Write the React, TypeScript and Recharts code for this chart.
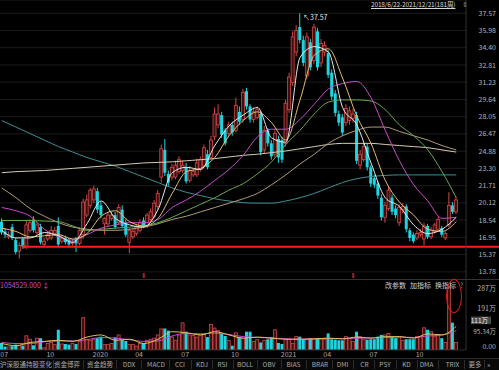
import React from "react";
import {
  ComposedChart,
  Bar,
  Line,
  XAxis,
  YAxis,
  CartesianGrid,
  ReferenceLine,
  ReferenceDot,
} from "recharts";

const FONT = '"Noto Sans CJK SC", "Noto Sans", sans-serif';
const UP = "#d04848";
const UP_FILL = "#3a1010";
const DOWN = "#1fd4de";

// weekly candles, 2019-07 .. 2021-12
const opens = [
  18.4, 17.5, 17.0, 17.9, 16.7, 15.7, 16.8, 16.1, 17.6, 18.6,
  17.4, 17.9, 16.3, 16.8, 16.9, 17.3, 18.0, 16.6, 16.9, 16.7,
  16.4, 16.8, 16.4, 17.2, 19.0, 19.9, 20.4, 21.2, 19.9, 18.2,
  18.2, 18.7, 19.0, 18.3, 19.5, 18.3, 16.5, 17.0, 17.3, 17.6,
  18.5, 18.0, 18.6, 18.9, 19.8, 22.5, 25.0, 22.8, 22.5, 22.5,
  23.0, 23.1, 23.4, 22.2, 22.7, 22.7, 23.2, 23.5, 24.6, 24.3,
  26.2, 27.3, 28.2, 26.8, 26.5, 27.3, 26.8, 28.5, 27.8, 30.4,
  29.0, 27.8, 28.0, 28.3, 25.0, 26.8, 25.6, 24.6, 26.0, 25.9,
  25.6, 28.7, 31.2, 34.0, 36.3, 35.1, 31.8, 34.9, 33.2, 35.9,
  33.0, 34.0, 33.9, 32.1, 30.2, 28.3, 28.0, 27.5, 27.7, 27.9,
  28.2, 23.6, 24.1, 25.3, 23.4, 22.4, 21.9, 20.6, 18.8, 19.6,
  20.6, 19.6, 18.3, 19.5, 19.8, 17.6, 17.2, 16.9, 17.2, 16.8,
  18.0, 17.0, 17.5, 17.7, 17.8, 16.9, 18.1, 19.9, 19.3,
];
const closes = [
  17.4, 17.2, 17.2, 16.9, 15.6, 16.2, 16.1, 18.1, 18.3, 17.6,
  18.1, 16.5, 16.6, 17.2, 17.6, 17.6, 16.3, 16.9, 16.5, 16.3,
  16.5, 16.4, 17.6, 20.2, 20.4, 21.3, 21.4, 19.5, 19.0, 18.7,
  19.0, 19.0, 17.9, 19.7, 18.0, 17.2, 17.6, 17.5, 17.9, 18.3,
  18.0, 19.0, 19.3, 20.1, 21.0, 25.1, 22.9, 22.0, 23.4, 23.6,
  24.1, 23.6, 22.1, 23.1, 23.0, 23.8, 24.1, 25.2, 23.4, 25.9,
  28.3, 28.3, 26.4, 25.6, 27.3, 26.6, 29.1, 27.6, 30.3, 29.0,
  27.8, 28.5, 28.7, 24.8, 26.8, 25.6, 24.4, 26.5, 24.3, 24.1,
  29.3, 31.7, 35.4, 36.0, 35.1, 33.0, 35.4, 32.6, 36.3, 32.6,
  34.8, 34.6, 31.9, 29.9, 28.4, 27.5, 26.6, 28.8, 28.6, 28.3,
  24.0, 24.6, 25.3, 23.4, 21.9, 21.8, 20.8, 18.8, 19.9, 21.3,
  19.3, 19.0, 19.7, 19.8, 17.7, 16.9, 16.6, 17.3, 17.4, 18.0,
  17.0, 17.6, 18.1, 18.6, 17.2, 17.3, 19.9, 19.3, 20.4,
];
const highs = [
  18.7, 17.8, 17.5, 18.2, 16.9, 16.5, 17.0, 18.5, 18.6, 18.9,
  18.4, 18.2, 16.9, 17.5, 18.0, 17.9, 18.8, 17.2, 17.1, 16.9,
  16.8, 17.0, 17.9, 20.5, 20.9, 21.5, 21.7, 21.5, 20.2, 18.8,
  19.3, 19.3, 19.3, 20.0, 19.9, 18.6, 17.8, 17.8, 18.2, 18.6,
  18.8, 19.2, 19.6, 20.4, 21.3, 25.5, 26.0, 23.1, 23.7, 24.0,
  24.4, 24.0, 23.8, 23.5, 23.3, 24.2, 24.4, 25.5, 25.0, 26.3,
  28.9, 29.2, 28.5, 27.0, 27.6, 27.6, 29.8, 29.0, 30.6, 30.7,
  29.2, 28.9, 29.0, 28.6, 27.2, 27.0, 25.9, 26.8, 26.3, 26.2,
  29.6, 32.1, 35.9, 36.5, 37.57, 35.5, 35.8, 35.2, 36.6, 36.2,
  35.2, 35.0, 34.2, 32.4, 30.5, 28.6, 28.3, 29.2, 29.0, 28.8,
  28.5, 25.0, 25.6, 25.6, 23.6, 22.7, 22.1, 20.9, 20.2, 21.7,
  20.9, 19.9, 20.0, 20.1, 20.0, 17.8, 17.4, 17.6, 17.7, 18.3,
  18.2, 17.9, 18.3, 18.9, 18.0, 17.5, 21.1, 20.2, 20.7,
];
const lows = [
  17.2, 16.9, 16.8, 16.7, 15.4, 15.0, 15.9, 15.9, 17.4, 17.4,
  17.2, 16.3, 16.1, 16.6, 16.7, 17.1, 16.1, 16.4, 16.3, 16.1,
  16.2, 15.6, 16.2, 16.8, 18.8, 19.6, 20.1, 19.2, 18.7, 17.2,
  18.0, 18.5, 17.7, 18.1, 17.8, 17.0, 15.5, 16.8, 17.1, 17.4,
  17.8, 17.8, 18.4, 18.7, 19.5, 22.0, 22.6, 21.7, 22.2, 22.3,
  22.8, 22.9, 21.9, 22.0, 22.5, 22.5, 23.0, 23.3, 23.2, 24.1,
  25.9, 27.0, 26.1, 25.4, 26.3, 26.3, 26.6, 27.3, 27.5, 28.7,
  27.5, 27.5, 27.8, 24.5, 24.7, 25.3, 24.1, 24.3, 23.8, 23.8,
  25.3, 28.4, 30.9, 33.6, 34.8, 32.7, 31.5, 32.3, 32.9, 32.3,
  32.6, 33.6, 31.6, 29.6, 28.1, 27.2, 26.3, 27.2, 27.3, 27.5,
  23.7, 23.2, 23.9, 23.1, 21.6, 21.5, 20.5, 18.5, 18.3, 19.4,
  19.0, 18.7, 18.0, 19.2, 17.4, 16.6, 16.4, 16.7, 17.0, 16.2,
  16.8, 16.8, 17.3, 17.5, 17.0, 16.7, 17.9, 19.1, 19.1,
];
// volume in 万
const volumes = [
  33, 16, 14, 18, 25, 22, 20, 66, 50, 22,
  55, 55, 10, 30, 35, 25, 94, 28, 28, 25,
  30, 28, 40, 150, 48, 45, 50, 55, 62, 25,
  25, 30, 59, 70, 48, 42, 25, 25, 18, 30,
  32, 45, 50, 55, 70, 98, 100, 90, 60, 45,
  70, 126, 85, 70, 68, 60, 70, 72, 60, 118,
  102, 90, 75, 65, 45, 20, 80, 60, 55, 85,
  85, 40, 48, 35, 45, 50, 60, 94, 33, 28,
  50, 50, 30, 62, 62, 50, 50, 55, 50, 55,
  50, 50, 77, 50, 48, 45, 45, 62, 55, 40,
  85, 62, 50, 48, 50, 50, 62, 70, 70, 77,
  62, 55, 62, 45, 50, 50, 50, 62, 62, 103,
  94, 85, 62, 70, 55, 35, 292, 127, 35,
];

// moving averages read every 4th week
const MA_STEP = 4;
const ma5 = [17.6, 16.9, 16.9, 17.4, 17.1, 16.5, 18.2, 20.3, 18.7, 18.1, 17.9, 19.5, 22.9, 23.4, 23.2, 25.4, 27.2, 28.2, 28.9, 26.1, 25.7, 33.5, 34.5, 34.0, 28.9, 27.3, 23.8, 20.6, 19.8, 18.1, 17.3, 17.7, 18.8];
const ma10 = [17.8, 17.5, 17.0, 17.1, 17.2, 16.8, 17.3, 18.9, 19.4, 18.4, 18.0, 18.7, 21.0, 23.0, 23.3, 24.3, 26.3, 27.7, 28.5, 27.5, 25.9, 29.6, 33.7, 34.3, 31.6, 28.1, 25.6, 22.2, 20.2, 19.0, 17.7, 17.5, 18.4];
const ma20 = [19.7, 19.4, 18.9, 17.7, 17.0, 16.7, 17.2, 17.8, 18.1, 18.3, 18.3, 18.6, 19.7, 20.4, 21.2, 22.2, 23.2, 24.5, 26.2, 26.9, 26.9, 27.8, 29.2, 30.6, 31.1, 31.3, 29.8, 26.8, 24.0, 21.8, 20.3, 18.7, 18.8];
const ma30 = [18.5, 18.5, 18.5, 18.45, 18.4, 18.0, 17.6, 17.7, 17.8, 17.9, 18.0, 18.3, 18.8, 19.4, 20.0, 20.6, 21.3, 21.9, 22.8, 23.9, 25.5, 26.8, 28.3, 29.4, 29.6, 29.6, 29.5, 28.7, 27.3, 26.3, 25.0, 23.0, 20.6];
const ma60 = [21.5, 20.6, 19.6, 18.9, 18.3, 17.9, 17.7, 17.6, 17.6, 17.7, 17.9, 18.2, 18.6, 18.9, 19.3, 19.7, 20.1, 20.5, 21.0, 21.8, 22.7, 23.7, 24.6, 25.6, 26.3, 26.8, 27.1, 27.1, 26.7, 26.3, 25.9, 25.4, 25.0];
const ma120 = [22.9, 23.0, 23.05, 23.1, 23.2, 23.3, 23.4, 23.5, 23.6, 23.7, 23.8, 23.85, 23.9, 24.0, 24.1, 24.2, 24.35, 24.5, 24.6, 24.75, 24.9, 25.1, 25.3, 25.5, 25.6, 25.6, 25.6, 25.5, 25.4, 25.3, 25.2, 25.0, 24.8];
const ma250 = [27.7, 27.1, 26.5, 25.9, 25.3, 24.8, 24.3, 23.9, 23.5, 23.0, 22.5, 22.0, 21.5, 21.1, 20.8, 20.5, 20.3, 20.15, 20.1, 20.1, 20.3, 20.6, 21.0, 21.5, 22.0, 22.35, 22.55, 22.65, 22.7, 22.7, 22.7, 22.7, 22.7];
const volMa5 = [30, 20, 35, 40, 45, 40, 60, 70, 45, 50, 30, 50, 85, 80, 70, 85, 70, 55, 60, 55, 50, 50, 52, 55, 52, 60, 55, 62, 62, 55, 75, 70, 110];
const volMa10 = [35, 30, 30, 38, 42, 42, 48, 58, 55, 48, 40, 42, 65, 78, 75, 78, 72, 62, 58, 56, 52, 50, 52, 53, 52, 55, 56, 58, 60, 58, 65, 70, 90];

const priceTicks = [13.78, 15.37, 16.95, 18.54, 20.12, 21.71, 23.3, 24.88, 26.47, 28.05, 29.64, 31.23, 32.81, 34.4, 35.98, 37.57];
const volumeTicks = [0, 95.34, 111, 191, 287];
const dateTickWeeks = [0, 13, 26, 38, 51, 65, 79, 91, 104, 117];
const dateTickLabels = ["07", "10", "2020", "04", "07", "10", "2021", "04", "07", "10"];
const signalWeeks = [40, 99];
const supportPrice = 16.1;
const supportStartWeek = 6.3;
const peakWeek = 84;
const peakPrice = 37.57;
const tabs = ["沪深股通持股变化", "资金博弈", "资金趋势", "DDX", "MACD", "CCI", "KDJ", "RSI", "BOLL", "OBV", "BIAS", "BRAR", "DMI", "CR", "PSY", "KD", "DMA", "TRIX", "更多"];

const rows = opens.map((o, i) => {
  const k = i % MA_STEP === 0 ? i / MA_STEP : -1;
  const pick = (arr: number[]) => (k >= 0 ? arr[k] : null);
  return {
    i,
    o,
    c: closes[i],
    h: highs[i],
    l: lows[i],
    range: [lows[i], highs[i]],
    v: volumes[i],
    ma5: pick(ma5),
    ma10: pick(ma10),
    ma20: pick(ma20),
    ma30: pick(ma30),
    ma60: pick(ma60),
    ma120: pick(ma120),
    ma250: pick(ma250),
    vma5: pick(volMa5),
    vma10: pick(volMa10),
  };
});

const priceLines = [
  { key: "ma250", color: "#3f8f94" },
  { key: "ma120", color: "#d6cab0" },
  { key: "ma60", color: "#b09a78" },
  { key: "ma30", color: "#6aa84f" },
  { key: "ma20", color: "#c84cc8" },
  { key: "ma10", color: "#e0c070" },
  { key: "ma5", color: "#e8e8e8" },
];

const X_DOMAIN: [number, number] = [-0.5, 130.75];

function Candle(props: any) {
  const { x, y, width, height, payload } = props;
  if (x == null || y == null) return null;
  const { o, c, h, l } = payload;
  const top = Math.min(y, y + height);
  const span = Math.abs(height) || 1;
  const py = (p: number) => top + ((h - p) / (h - l || 1)) * span;
  const up = c >= o;
  const color = up ? UP : DOWN;
  const cx = x + width / 2;
  const y1 = py(Math.max(o, c));
  const y2 = py(Math.min(o, c));
  return (
    <g>
      <line x1={cx} x2={cx} y1={top} y2={top + span} stroke={color} strokeWidth={1} />
      <rect
        x={x}
        y={y1}
        width={width}
        height={Math.max(1, y2 - y1)}
        fill={up ? UP_FILL : DOWN}
        stroke={up ? UP : "none"}
        strokeWidth={0.8}
      />
    </g>
  );
}

function VolumeBar(props: any) {
  const { x, y, width, height, payload } = props;
  if (x == null || !height) return null;
  const up = payload.c >= payload.o;
  return (
    <rect
      x={x}
      y={y}
      width={width}
      height={height}
      fill={up ? UP_FILL : DOWN}
      stroke={up ? UP : "none"}
      strokeWidth={0.8}
    />
  );
}

function PriceTick({ y, payload }: any) {
  return (
    <text x={496} y={y + 2.5} textAnchor="end" fill="#b4b4b4" fontSize={7} fontFamily={FONT}>
      {payload.value.toFixed(2)}
    </text>
  );
}

function VolumeTick({ y, payload }: any) {
  const v = payload.value;
  if (v === 111) {
    return (
      <g>
        <rect x={471} y={y - 9.5} width={20} height={7.5} fill="#4a4a4a" />
        <text x={488} y={y - 3.5} textAnchor="end" fill="#eeeeee" fontSize={6.5} fontFamily={FONT}>
          111万
        </text>
      </g>
    );
  }
  const label = v === 0 ? "0.00" : `${v}万`;
  const dy = v === 0 ? -1.5 : v === 95.34 ? 4.5 : 2.5;
  return (
    <text x={496} y={y + dy} textAnchor="end" fill="#b4b4b4" fontSize={v === 95.34 ? 6.5 : 7} fontFamily={FONT}>
      {label}
    </text>
  );
}

function DateTick({ x, payload }: any) {
  const idx = dateTickWeeks.indexOf(payload.value);
  return (
    <text x={Math.max(0, x - 1.5)} y={77} textAnchor="start" fill="#a8a8a8" fontSize={7} fontFamily={FONT}>
      {dateTickLabels[idx] ?? ""}
    </text>
  );
}

function SignalMark({ cx, cy }: any) {
  return <rect x={cx - 1} y={cy - 3} width={2} height={5} fill="#a8202e" />;
}

const tabCenters = [26, 67, 100, 129, 156, 180, 202, 222.5, 245, 269, 293.5, 320, 342.5, 364.5, 385, 406.5, 426.5, 452.5, 475];
const tabSeparators = [53, 83, 116, 141, 169, 191, 212, 233, 257, 281, 306, 332, 353, 374, 396, 417, 438, 464, 484];

export default function App() {
  return (
    <div
      style={{
        position: "absolute",
        left: 0,
        top: 0,
        width: 499,
        height: 370,
        background: "#000",
        overflow: "hidden",
        fontFamily: FONT,
      }}
    >
      <div style={{ position: "absolute", left: 0, top: 0 }}>
        <ComposedChart width={499} height={280} data={rows} margin={{ top: 0, right: 0, bottom: 0, left: 0 }}>
          <CartesianGrid vertical={false} stroke="#1c1c1c" />
          <XAxis dataKey="i" type="number" domain={X_DOMAIN} allowDataOverflow hide />
          <YAxis
            orientation="right"
            type="number"
            domain={[13.03, 38.79]}
            allowDataOverflow
            ticks={priceTicks}
            interval={0}
            width={33}
            tickLine={false}
            axisLine={{ stroke: "#333" }}
            tick={<PriceTick />}
          />
          <ReferenceLine
            segment={[
              { x: supportStartWeek, y: supportPrice },
              { x: 140, y: supportPrice },
            ]}
            ifOverflow="visible"
            stroke="#ff1c1c"
            strokeWidth={2}
          />
          <ReferenceDot x={supportStartWeek} y={supportPrice} r={1.8} fill="#ff1c1c" stroke="none" />
          <Bar dataKey="range" shape={<Candle />} barSize={3} isAnimationActive={false} />
          {priceLines.map((m) => (
            <Line
              key={m.key}
              dataKey={m.key}
              type="monotone"
              stroke={m.color}
              strokeWidth={1}
              dot={false}
              activeDot={false}
              connectNulls
              isAnimationActive={false}
            />
          ))}
          <ReferenceDot
            x={peakWeek}
            y={peakPrice}
            r={1}
            fill="none"
            stroke="none"
            label={{ value: "↖37.57", position: "right", offset: 2, dy: 4, fill: "#e0e0e0", fontSize: 7 }}
          />
          {signalWeeks.map((w) => (
            <ReferenceDot key={w} x={w} y={13.4} r={2} shape={<SignalMark />} />
          ))}
        </ComposedChart>
      </div>

      {/* panel separator */}
      <div style={{ position: "absolute", left: 0, top: 279, width: 499, height: 1, background: "#333" }} />

      <div style={{ position: "absolute", left: 0, top: 280 }}>
        <ComposedChart width={499} height={80} data={rows} margin={{ top: 0, right: 0, bottom: 0, left: 0 }}>
          <XAxis
            dataKey="i"
            type="number"
            domain={X_DOMAIN}
            allowDataOverflow
            ticks={dateTickWeeks}
            interval={0}
            height={10}
            tickLine={false}
            axisLine={{ stroke: "#2a2a2a" }}
            tick={<DateTick />}
          />
          <YAxis
            orientation="right"
            type="number"
            domain={[0, 325]}
            allowDataOverflow
            ticks={volumeTicks}
            interval={0}
            width={33}
            tickLine={false}
            axisLine={{ stroke: "#333" }}
            tick={<VolumeTick />}
          />
          <Bar dataKey="v" shape={<VolumeBar />} barSize={3} isAnimationActive={false} />
          <Line dataKey="vma10" type="monotone" stroke="#c84cc8" strokeWidth={1} dot={false} activeDot={false} connectNulls isAnimationActive={false} />
          <Line dataKey="vma5" type="monotone" stroke="#e0c060" strokeWidth={1} dot={false} activeDot={false} connectNulls isAnimationActive={false} />
        </ComposedChart>
      </div>

      {/* header texts */}
      <div
        style={{
          position: "absolute",
          left: 371,
          top: 0,
          fontSize: 6.5,
          lineHeight: "9px",
          color: "#d8d8d8",
          textDecoration: "underline",
          whiteSpace: "nowrap",
          letterSpacing: -0.15,
        }}
      >
        2018/6/22-2021/12/21(181周)
      </div>
      <div style={{ position: "absolute", left: 462, top: 0, fontSize: 6.5, lineHeight: "9px", color: "#888" }}>⇕</div>

      <div
        style={{
          position: "absolute",
          left: 0,
          top: 281,
          fontSize: 7,
          lineHeight: "9px",
          color: "#d048d0",
          whiteSpace: "nowrap",
        }}
      >
        1054529.000 ↕
      </div>
      <div
        style={{
          position: "absolute",
          left: 385,
          top: 281,
          fontSize: 7,
          lineHeight: "9px",
          color: "#d0d0d0",
          whiteSpace: "nowrap",
        }}
      >
        <span>改参数</span>
        <span style={{ marginLeft: 4 }}>加指标</span>
        <span style={{ marginLeft: 4 }}>换指标</span>
        <span style={{ marginLeft: 4, color: "#888" }}>?</span>
      </div>

      {/* highlight ellipse */}
      <div
        style={{
          position: "absolute",
          left: 446,
          top: 279,
          width: 14,
          height: 32,
          border: "1.5px solid #e01818",
          borderRadius: "50%",
        }}
      />

      {/* indicator tabs */}
      <div
        style={{
          position: "absolute",
          left: 0,
          top: 358,
          width: 499,
          height: 12,
          background: "#080808",
          borderTop: "1px solid #2c2c2c",
        }}
      >
        {tabs.map((t, k) => (
          <span
            key={t}
            style={{
              position: "absolute",
              left: tabCenters[k],
              top: 1,
              transform: "translateX(-50%)",
              fontSize: 6.5,
              lineHeight: "9px",
              color: "#a8a8a8",
              whiteSpace: "nowrap",
            }}
          >
            {t}
          </span>
        ))}
        {tabSeparators.map((s) => (
          <div key={s} style={{ position: "absolute", left: s, top: 1, width: 1, height: 9, background: "#2c2c2c" }} />
        ))}
        <span style={{ position: "absolute", left: 487, top: 0, fontSize: 7, lineHeight: "10px", color: "#a8a8a8" }}>»</span>
      </div>
    </div>
  );
}
